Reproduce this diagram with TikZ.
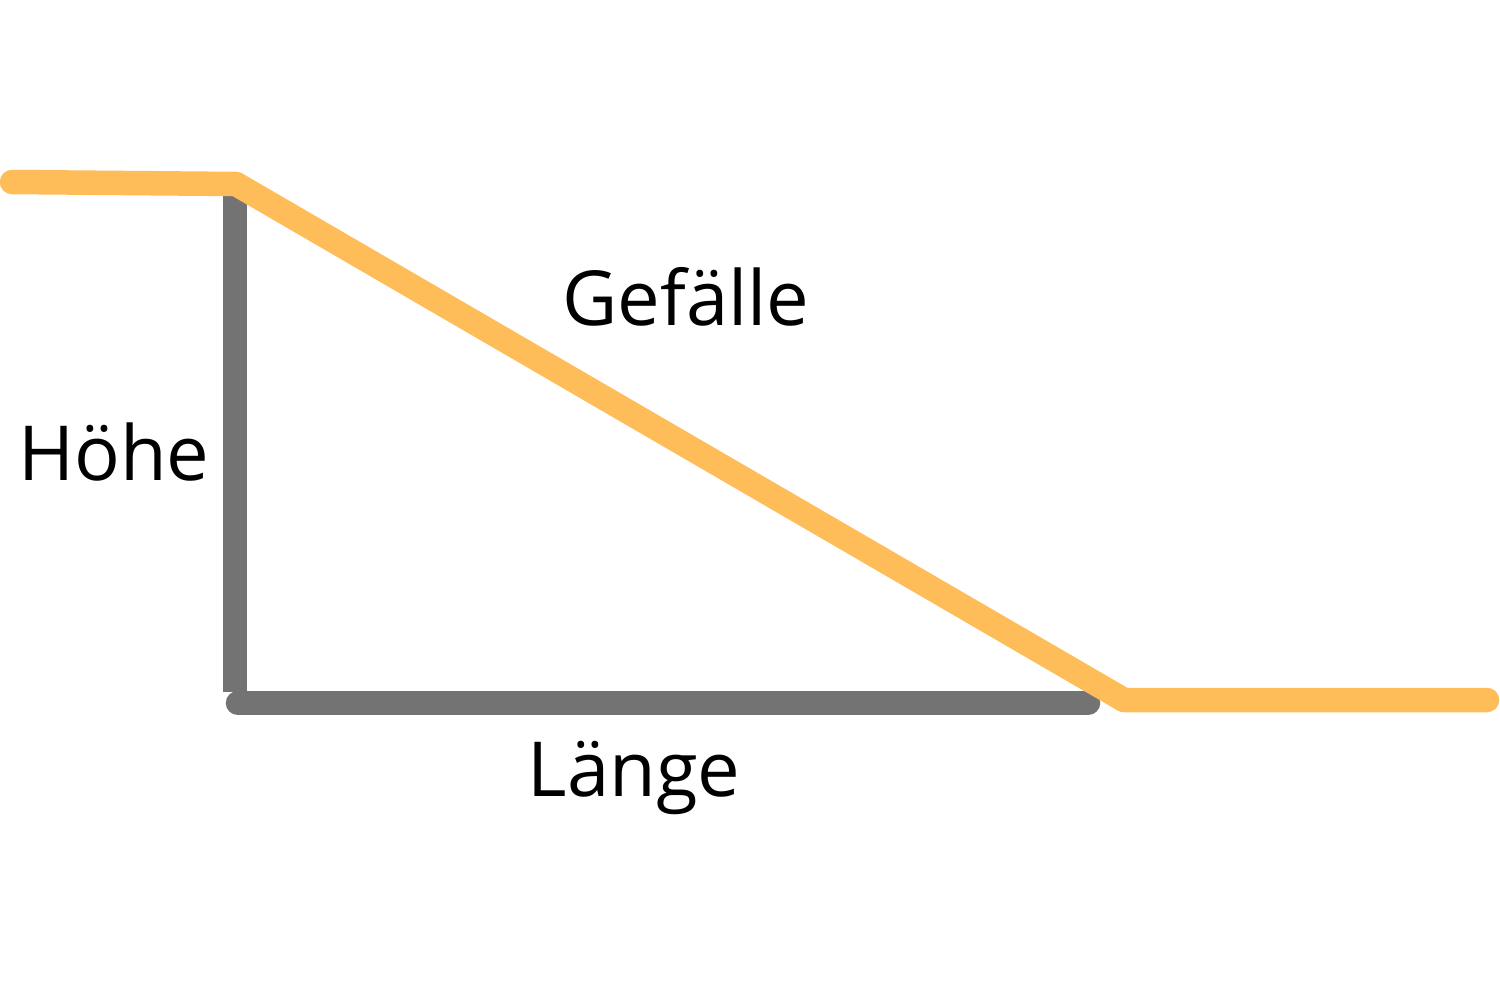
\documentclass[tikz,border=0pt]{standalone}
\usepackage{fontspec}
\setmainfont{Open Sans}
\definecolor{slope}{HTML}{FFBD59}
\definecolor{leg}{HTML}{737373}
\begin{document}
\begin{tikzpicture}[x=0.01cm,y=-0.01cm,
  legline/.style={draw=leg,line width=0.245cm},
  slopeline/.style={draw=slope,line width=0.245cm,line cap=round,line join=round},
  lbl/.style={font=\fontsize{21.6}{26}\selectfont,anchor=base,inner sep=0pt}]
\useasboundingbox (0,0) rectangle (1500,1000);
\coordinate (vt) at (235,190);
\coordinate (vb) at (235,692);
\coordinate (hl) at (238,703);
\coordinate (hr) at (1088,703);
\coordinate (s0) at (12,182);
\coordinate (s1) at (236,184);
\coordinate (s2) at (1124,700);
\coordinate (s3) at (1487,700);
\draw[legline] (vt) -- (vb);
\draw[legline,line cap=round] (hl) -- (hr);
\draw[slopeline] (s0) -- (s1) -- (s2) -- (s3);
\node[lbl] (g) at (686,325) {Gefälle};
\node[lbl] (h) at (114,480) {Höhe};
\node[lbl] (l) at (634,796) {Länge};
\end{tikzpicture}
\end{document}
